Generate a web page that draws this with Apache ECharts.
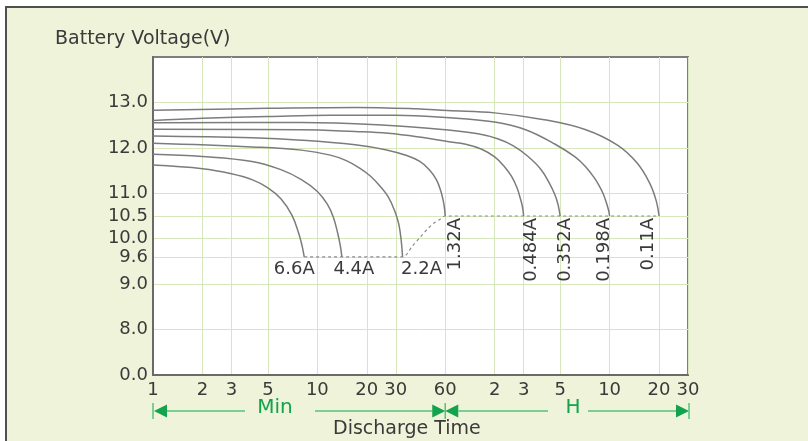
<!DOCTYPE html>
<html><head><meta charset="utf-8">
<script src="https://cdn.jsdelivr.net/npm/echarts@6/dist/echarts.min.js"></script>
<style>html,body{margin:0;padding:0;background:#fff;}#c{width:808px;height:441px;}</style>
</head><body><div id="c"></div>
<script>
// ---- axis ticks ----
const yTickValues = [0, 8, 9, 9.6, 10, 10.5, 11, 12, 13];
const yTickLabels = ['0.0', '8.0', '9.0', '9.6', '10.0', '10.5', '11.0', '12.0', '13.0'];
const xTickValues = [1, 2, 3, 5, 10, 20, 30, 60, 120, 180, 300, 600, 1200, 1800]; // minutes
const xTickLabels = ['1', '2', '3', '5', '10', '20', '30', '60', '2', '3', '5', '10', '20', '30'];

// ---- discharge curves: time (minutes) and voltage (V) ----
const currents = ['6.6A', '4.4A', '2.2A', '1.32A', '0.484A', '0.352A', '0.198A', '0.11A'];
const time_6_6A = [1, 2, 3, 4, 5, 6, 7, 7.7, 8.1, 8.32];
const volt_6_6A = [11.62, 11.54, 11.43, 11.30, 11.12, 10.88, 10.52, 10.12, 9.82, 9.60];
const time_4_4A = [1, 2, 4, 6, 8, 10, 11.5, 12.5, 13.3, 13.8, 14.1];
const volt_4_4A = [11.86, 11.81, 11.70, 11.52, 11.30, 11.04, 10.76, 10.48, 10.12, 9.84, 9.60];
const time_2_2A = [1, 4, 8, 12, 15, 18, 21, 24, 27, 29.5, 31.3, 32.4, 33];
const volt_2_2A = [12.10, 12.02, 11.95, 11.84, 11.72, 11.56, 11.38, 11.16, 10.92, 10.62, 10.32, 9.95, 9.60];
const time_1_32A = [1, 4, 8, 17, 26, 35, 42, 48, 53, 56.5, 58.6, 59.6, 60];
const volt_1_32A = [12.26, 12.22, 12.17, 12.07, 11.96, 11.83, 11.70, 11.52, 11.30, 11.04, 10.80, 10.62, 10.50];
const time_0_484A = [1, 8, 17, 27, 45, 62, 80, 100, 120, 138, 152, 164, 172, 177, 180];
const volt_0_484A = [12.41, 12.40, 12.36, 12.32, 12.22, 12.14, 12.08, 11.97, 11.80, 11.58, 11.37, 11.12, 10.88, 10.70, 10.50];
const time_0_352A = [1, 8, 26, 60, 95, 125, 155, 190, 230, 260, 280, 292, 300];
const volt_0_352A = [12.55, 12.56, 12.50, 12.40, 12.31, 12.20, 12.05, 11.82, 11.52, 11.20, 10.95, 10.74, 10.50];
const time_0_198A = [1, 2, 5, 12, 30, 60, 120, 185, 280, 370, 430, 480, 520, 550, 575, 592, 600];
const volt_0_198A = [12.60, 12.65, 12.69, 12.72, 12.72, 12.67, 12.57, 12.40, 12.08, 11.80, 11.58, 11.36, 11.16, 10.98, 10.78, 10.62, 10.50];
const time_0_11A = [1, 5, 17, 40, 62, 120, 240, 430, 670, 880, 1050, 1150, 1200];
const volt_0_11A = [12.83, 12.87, 12.89, 12.86, 12.82, 12.77, 12.62, 12.40, 12.06, 11.67, 11.23, 10.85, 10.50];

// ---- end-of-discharge (cut-off) dashed line ----
const cutoffTime = [8.32, 33.0, 37.9, 42.4, 46.7, 51.5, 55.8, 60, 1200];
const cutoffVolt = [9.60, 9.60, 9.84, 10.04, 10.21, 10.35, 10.43, 10.50, 10.50];

const curveTimes = [time_6_6A, time_4_4A, time_2_2A, time_1_32A, time_0_484A, time_0_352A, time_0_198A, time_0_11A];
const curveVolts = [volt_6_6A, volt_4_4A, volt_2_2A, volt_1_32A, volt_0_484A, volt_0_352A, volt_0_198A, volt_0_11A];

const FONT = 'DejaVu Sans';
const TXT = '#3a3a3a';

// label placement (style only); rotated offsets are given in the label's rotated frame
const labelCfg = [
  {rotate: 0, offset: [-10, 0]},
  {rotate: 0, offset: [12, 0]},
  {rotate: 0, offset: [19, 0]},
  {rotate: 90, offset: [-2, 10]},
  {rotate: 90, offset: [-2, 8]},
  {rotate: 90, offset: [-2, 5]},
  {rotate: 90, offset: [-2, -5]},
  {rotate: 90, offset: [-2, -11]}
];

function zip(ts, vs) { return ts.map((t, i) => [t, vs[i]]); }

const series = currents.map((name, k) => {
  const pts = zip(curveTimes[k], curveVolts[k]);
  const cfg = labelCfg[k];
  const last = pts.length - 1;
  const lbl = cfg.rotate === 0
    ? {show: true, formatter: name, position: 'bottom', distance: 3, offset: cfg.offset,
       color: TXT, fontSize: 18, fontFamily: FONT}
    : {show: true, formatter: name, position: 'inside', rotate: 90, align: 'right', verticalAlign: 'middle',
       offset: cfg.offset, color: TXT, fontSize: 18, fontFamily: FONT};
  return {
    name: name, type: 'line', silent: true,
    showSymbol: true, symbol: 'circle', symbolSize: 0,
    smooth: 0.4,
    lineStyle: {color: '#7c7c7c', width: 1.5},
    itemStyle: {color: '#7c7c7c'},
    label: {show: false},
    emphasis: {disabled: true},
    data: pts.map((p, i) => i === last ? {value: p, label: lbl} : p)
  };
});
series.push({
  name: 'cutoff', type: 'line', silent: true, showSymbol: false, smooth: 0.3,
  lineStyle: {color: '#8c8c8c', width: 1.2, type: [3, 3]},
  emphasis: {disabled: true},
  data: zip(cutoffTime, cutoffVolt), z: 1
});

function lookup(vals, labels, v) {
  for (let i = 0; i < vals.length; i++) if (Math.abs(vals[i] - v) < 1e-6 * Math.max(1, Math.abs(v))) return labels[i];
  return '';
}

const chart = echarts.init(document.getElementById('c'));
chart.setOption({
  animation: false,
  backgroundColor: '#eef3da',
  title: [
    {text: 'Battery Voltage(V)', left: 55, top: 30, padding: 0,
     textStyle: {fontSize: 19, fontWeight: 'normal', color: TXT, fontFamily: FONT}},
    {text: 'Discharge Time', left: 333, top: 420, padding: 0,
     textStyle: {fontSize: 19, fontWeight: 'normal', color: TXT, fontFamily: FONT}}
  ],
  grid: {left: 153, right: 120, top: 57, bottom: 66, show: true, backgroundColor: '#ffffff',
         borderColor: '#7d7d7d', borderWidth: 2},
  xAxis: {
    type: 'log', logBase: 10, min: 1, max: 1800,
    axisLine: {show: true, onZero: false, lineStyle: {color: '#6a6a6a', width: 2}},
    axisTick: {show: false, customValues: xTickValues},
    axisLabel: {customValues: xTickValues, formatter: v => lookup(xTickValues, xTickLabels, v),
                color: TXT, fontSize: 18, fontFamily: FONT, margin: 6},
    splitLine: {show: true, lineStyle: {color: '#d6e7bd', width: 1}},
    minorTick: {show: false}, minorSplitLine: {show: false}
  },
  yAxis: {
    type: 'value', min: 0, max: 14,
    breaks: [{start: 0.5, end: 7.5, gap: 0}],
    breakArea: {show: false},
    axisLine: {show: true, lineStyle: {color: '#6a6a6a', width: 2}},
    axisTick: {show: false, customValues: yTickValues},
    axisLabel: {customValues: yTickValues, formatter: v => lookup(yTickValues, yTickLabels, v),
                color: TXT, fontSize: 18, fontFamily: FONT, margin: 5},
    splitLine: {show: true, lineStyle: {color: '#d6e7bd', width: 1}}
  },
  series: series
});

// ---- decorations: panel frame and Min / H arrows aligned to the time axis ----
const px = t => chart.convertToPixel({xAxisIndex: 0}, t);
const x1 = px(xTickValues[0]);
const x60 = px(60);
const xEnd = px(xTickValues[xTickValues.length - 1]);
const ay = 411;
const G = '#12a34c', GL = '#55c27c';
const arrow = (tip, dir) => ({type: 'polygon', silent: true,
  shape: {points: [[tip, ay], [tip + dir * 13, ay - 6.5], [tip + dir * 13, ay + 6.5]]}, style: {fill: G}});
const hline = (a, b) => ({type: 'line', silent: true, shape: {x1: a, y1: ay, x2: b, y2: ay}, style: {stroke: GL, lineWidth: 1.5}});
const vtick = x => ({type: 'line', silent: true, shape: {x1: x, y1: 403, x2: x, y2: 419}, style: {stroke: GL, lineWidth: 1.5}});
const cMin = 275, cH = 573;
chart.setOption({
  graphic: [
    {type: 'rect', silent: true, shape: {x: 0, y: 0, width: 808, height: 6}, style: {fill: '#fff'}},
    {type: 'rect', silent: true, shape: {x: 0, y: 0, width: 5, height: 441}, style: {fill: '#fff'}},
    {type: 'line', silent: true, shape: {x1: 5, y1: 7, x2: 808, y2: 7}, style: {stroke: '#505050', lineWidth: 2}},
    {type: 'line', silent: true, shape: {x1: 6, y1: 6, x2: 6, y2: 441}, style: {stroke: '#505050', lineWidth: 2}},
    vtick(x1), arrow(x1 + 1, 1), hline(x1 + 14, cMin - 30),
    {type: 'text', silent: true, style: {text: 'Min', x: cMin, y: 408, align: 'center', verticalAlign: 'middle',
      fill: G, fontSize: 20, fontFamily: FONT}},
    hline(cMin + 40, x60 - 13), arrow(x60, -1), vtick(x60), arrow(x60, 1),
    hline(x60 + 13, cH - 25),
    {type: 'text', silent: true, style: {text: 'H', x: cH, y: 408, align: 'center', verticalAlign: 'middle',
      fill: G, fontSize: 20, fontFamily: FONT}},
    hline(cH + 15, xEnd - 12), arrow(xEnd + 1, -1), vtick(xEnd + 1)
  ]
});
</script></body></html>
